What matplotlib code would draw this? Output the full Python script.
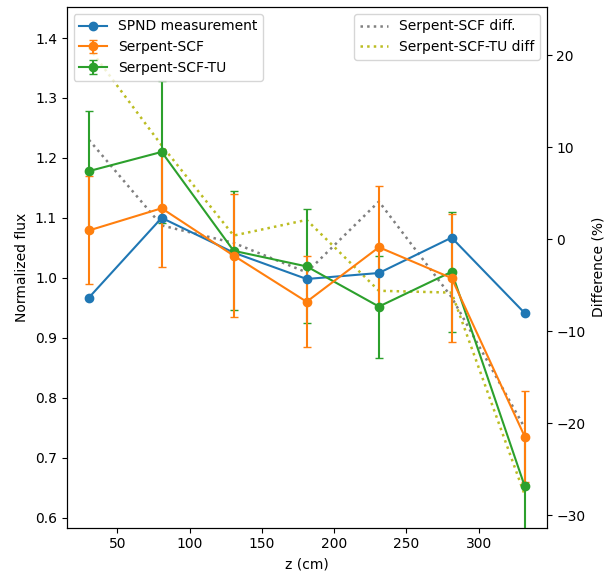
import matplotlib
matplotlib.use("Agg")
import matplotlib.pyplot as plt

# axial positions (cm)
z = [30.4, 80.7, 130.5, 181.0, 231.0, 281.3, 331.9]

spnd = [0.967, 1.100, 1.042, 0.998, 1.008, 1.067, 0.941]

scf = [1.079, 1.116, 1.037, 0.960, 1.051, 0.9995, 0.735]
scf_err = [0.090, 0.098, 0.103, 0.076, 0.102, 0.107, 0.076]

scf_tu = [1.178, 1.210, 1.045, 1.019, 0.952, 1.010, 0.652]
scf_tu_err = [0.101, 0.118, 0.099, 0.095, 0.085, 0.100, 0.080]

# difference to measurement (%)
scf_diff = [10.8, 1.5, -0.4, -3.6, 4.1, -6.3, -20.5]
scf_tu_diff = [20.8, 10.2, 0.4, 2.1, -5.6, -5.8, -27.8]

fig = plt.figure(figsize=(6.08, 5.73), dpi=100)
ax1 = fig.add_axes([0.1097, 0.079, 0.7893, 0.909])
ax2 = ax1.twinx()

# keep the data axis (and its legend) above the difference lines
ax1.set_zorder(ax2.get_zorder() + 1)
ax1.patch.set_visible(False)

h_tu = ax1.errorbar(z, scf_tu, yerr=scf_tu_err, fmt='-o', color='tab:green',
                    capsize=3, label='Serpent-SCF-TU')
h_scf = ax1.errorbar(z, scf, yerr=scf_err, fmt='-o', color='tab:orange',
                     capsize=3, label='Serpent-SCF')
h_spnd, = ax1.plot(z, spnd, '-o', color='tab:blue', label='SPND measurement')

ax1.set_xlim(15, 347)
ax1.set_ylim(0.583, 1.452)
ax1.set_xlabel('z (cm)')
ax1.set_ylabel('Normalized flux')
ax1.legend(handles=[h_spnd, h_scf, h_tu], loc='upper left')

ax2.plot(z, scf_diff, ':', color='gray', linewidth=1.8, label='Serpent-SCF diff.')
ax2.plot(z, scf_tu_diff, ':', color='tab:olive', linewidth=1.8, label='Serpent-SCF-TU diff')
ax2.set_ylim(-31.35, 25.25)
ax2.set_ylabel('Difference (%)')
ax2.legend(loc='upper right')

fig.savefig('out.png', dpi=100)
